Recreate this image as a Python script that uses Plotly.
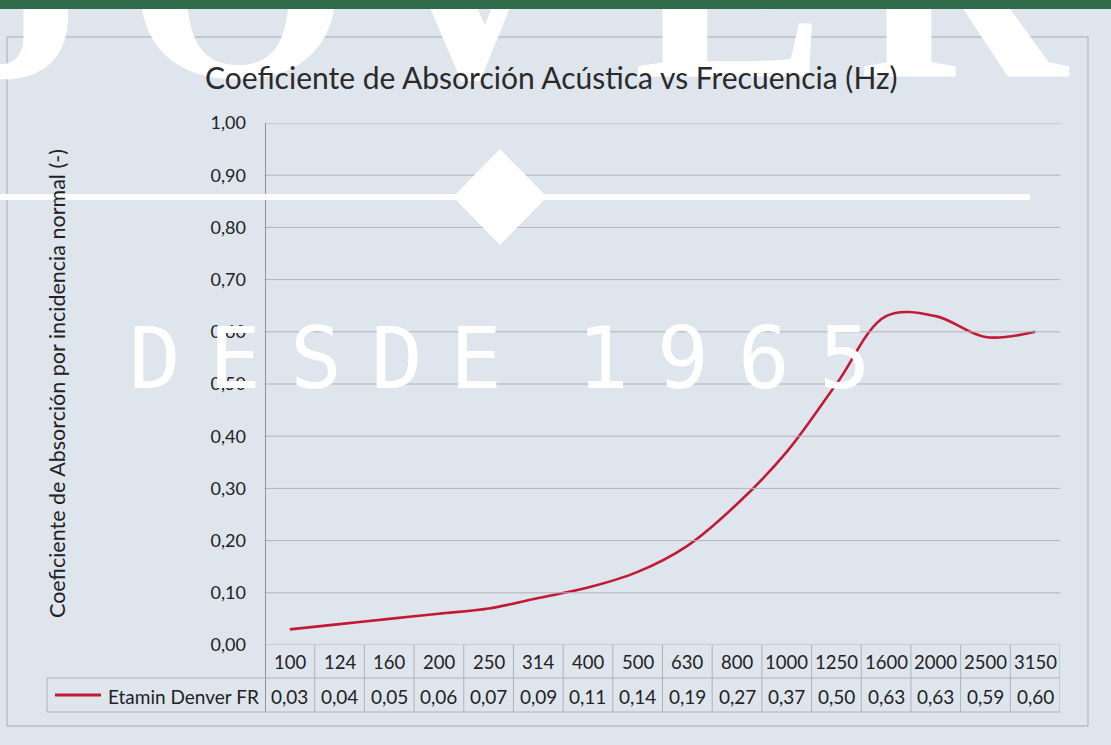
import plotly.graph_objects as go

# ---------------- data ----------------
frequencies = ["100", "124", "160", "200", "250", "314", "400", "500",
               "630", "800", "1000", "1250", "1600", "2000", "2500", "3150"]
absorption = [0.03, 0.04, 0.05, 0.06, 0.07, 0.09, 0.11, 0.14,
              0.19, 0.27, 0.37, 0.50, 0.63, 0.63, 0.59, 0.60]
series_name = "Etamin Denver FR"
y_ticks = [0.0, 0.1, 0.2, 0.3, 0.4, 0.5, 0.6, 0.7, 0.8, 0.9, 1.0]
chart_title = "Coeficiente de Absorción Acústica vs Frecuencia (Hz)"
y_title = "Coeficiente de Absorción por incidencia normal (-)"
wm_top = ["J", "O", "V", "E", "R"]
wm_mid = ["D", "E", "S", "D", "E", "1", "9", "6", "5"]

# ---------------- styling ----------------
W, H = 1111, 745
L, R, T, B = 265, 1060, 123, 645   # plot area in pixels
BG = "#dfe5ed"
RED = "#c21a36"
GRID = "#aeb3b9"
TXT = "#222222"
FONT = "Lato"


def px(x):
    return (x - L) / (R - L)


def py(y):
    return (B - y) / (B - T)


n = len(frequencies)
xs = list(range(n))

fig = go.Figure()
fig.add_trace(go.Scatter(
    x=xs, y=absorption, mode="lines", name=series_name,
    line=dict(color=RED, width=2.6, shape="spline", smoothing=1.0),
    showlegend=False, hoverinfo="skip"))

shapes = []
# outer chart border
shapes.append(dict(type="rect", xref="paper", yref="paper", x0=px(7), x1=px(1088),
                   y0=py(726), y1=py(37), line=dict(color="#a9aeb5", width=1),
                   fillcolor="rgba(0,0,0,0)"))
# grid lines (lower layer, through y scale)
for v in y_ticks:
    shapes.append(dict(type="line", xref="paper", yref="y", x0=0, x1=1, y0=v, y1=v,
                       line=dict(color=GRID, width=1)))
# y axis line continuing into table
shapes.append(dict(type="line", xref="x", yref="paper", x0=-0.5, x1=-0.5,
                   y0=py(712), y1=1, line=dict(color="#5a5e64", width=1.2)))
# table vertical lines
for i in range(1, n + 1):
    shapes.append(dict(type="line", xref="x", yref="paper", x0=i - 0.5, x1=i - 0.5,
                       y0=py(712), y1=py(645), line=dict(color=GRID, width=1)))
# table horizontal lines
shapes.append(dict(type="line", xref="paper", yref="paper", x0=px(47), x1=1,
                   y0=py(678), y1=py(678), line=dict(color=GRID, width=1)))
shapes.append(dict(type="line", xref="paper", yref="paper", x0=px(47), x1=1,
                   y0=py(712), y1=py(712), line=dict(color=GRID, width=1)))
shapes.append(dict(type="line", xref="paper", yref="paper", x0=px(47), x1=px(47),
                   y0=py(712), y1=py(678), line=dict(color=GRID, width=1)))
# legend key
shapes.append(dict(type="line", xref="paper", yref="paper", x0=px(55), x1=px(101),
                   y0=py(695), y1=py(695), line=dict(color=RED, width=3)))

# ---- watermark (white) ----
shapes.append(dict(type="rect", xref="paper", yref="paper", x0=px(0), x1=px(1030),
                   y0=py(200), y1=py(194), line=dict(width=0), fillcolor="white"))
shapes.append(dict(type="path", xref="paper", yref="paper",
                   path="M {} {} L {} {} L {} {} L {} {} Z".format(
                       px(453), py(197), px(500), py(149), px(547), py(197), px(500), py(245)),
                   line=dict(width=0), fillcolor="white"))
mid_centers = [155, 235, 316, 397, 476, 603, 683, 764, 845]
for ch, cx in zip(wm_mid, mid_centers):
    shapes.append(dict(type="rect", xref="paper", yref="paper",
                       x0=px(cx - 40), x1=px(cx + 40), y0=py(402), y1=py(302),
                       line=dict(width=0), fillcolor="rgba(0,0,0,0)",
                       label=dict(text=ch, textposition="middle center",
                                  font=dict(family="DejaVu Sans Mono", size=86, color="white"))))
top_centers = [25, 238, 470, 730, 962]
for ch, cx in zip(wm_top, top_centers):
    shapes.append(dict(type="rect", xref="paper", yref="paper",
                       x0=px(cx - 150), x1=px(cx + 150), y0=py(47), y1=py(-153),
                       line=dict(width=0), fillcolor="rgba(0,0,0,0)",
                       label=dict(text=ch, textposition="middle center",
                                  font=dict(family="Liberation Serif", size=290,
                                            color="white", weight="bold"))))
# green band at top
shapes.append(dict(type="rect", xref="paper", yref="paper", x0=px(0), x1=px(W),
                   y0=py(9), y1=py(-2), line=dict(width=0), fillcolor="#2f6a4b"))

annotations = []
annotations.append(dict(text=chart_title, xref="paper", yref="paper",
                        x=px(551), y=py(77), showarrow=False,
                        xanchor="center", yanchor="middle",
                        font=dict(family=FONT, size=30, color="#2a2a2a")))
annotations.append(dict(text=y_title, xref="paper", yref="paper",
                        x=px(57), y=py(384), showarrow=False, textangle=-90,
                        xanchor="center", yanchor="middle",
                        font=dict(family=FONT, size=21.5, color=TXT)))
for i, f in enumerate(frequencies):
    annotations.append(dict(text=f, xref="x", yref="paper", x=i, y=py(662),
                            showarrow=False, xanchor="center", yanchor="middle",
                            font=dict(family=FONT, size=18.5, color=TXT)))
for i, a in enumerate(absorption):
    annotations.append(dict(text=f"{a:.2f}".replace(".", ","), xref="x", yref="paper",
                            x=i, y=py(696), showarrow=False,
                            xanchor="center", yanchor="middle",
                            font=dict(family=FONT, size=19, color=TXT)))
annotations.append(dict(text=series_name, xref="paper", yref="paper",
                        x=px(106), y=py(696), showarrow=False,
                        xanchor="left", yanchor="middle",
                        font=dict(family=FONT, size=19, color=TXT)))

fig.update_layout(
    width=W, height=H,
    margin=dict(l=L, r=W - R, t=T, b=H - B),
    paper_bgcolor=BG, plot_bgcolor="rgba(0,0,0,0)",
    separators=",.",
    showlegend=False,
    shapes=shapes,
    annotations=annotations,
    xaxis=dict(range=[-0.5, n - 0.5], showgrid=False, zeroline=False,
               showline=False, showticklabels=False, ticks=""),
    yaxis=dict(range=[0, 1], tickvals=y_ticks, tickformat=".2f",
               showgrid=False, zeroline=False, showline=False, ticks="",
               ticklabelstandoff=18,
               tickfont=dict(family=FONT, size=18, color=TXT)),
)

fig.write_html(
    "out.html",
    config={"displayModeBar": False},
    post_script="document.body.style.margin='0';document.body.style.background='" + BG + "';",
)
